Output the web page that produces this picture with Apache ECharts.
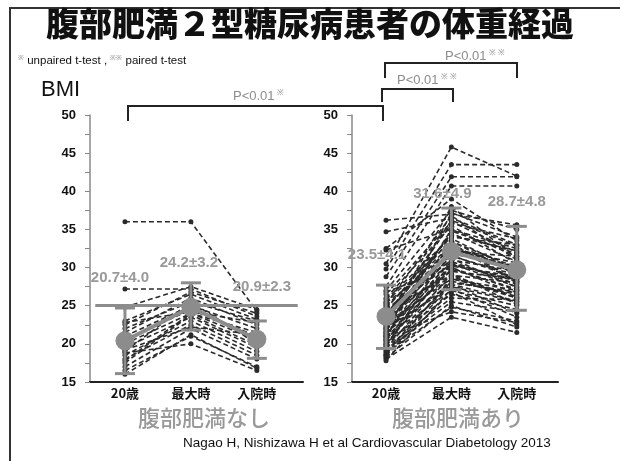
<!DOCTYPE html>
<html>
<head>
<meta charset="utf-8">
<script src="https://cdn.jsdelivr.net/npm/echarts@6/dist/echarts.min.js"></script>
<style>
html, body { margin: 0; padding: 0; background: #fff; }
#chart { width: 620px; height: 461px; }
</style>
</head>
<body>
<div id="chart"></div>
<script>
// 時点
var categories = ['20歳', '最大時', '入院時'];
var groupNames = ['腹部肥満なし', '腹部肥満あり'];

// 腹部肥満なし: 各症例 [20歳, 最大時, 入院時]
var noneSubjects = [
    [36.0, 36.0, 24.3], [27.2, 27.2, 23.6], [24.8, 27.5, 24.5], [23.0, 26.5, 23.2],
    [22.5, 26.8, 24.0], [22.0, 25.5, 23.0], [21.5, 26.0, 22.5], [21.0, 25.0, 22.0],
    [20.5, 24.5, 21.0], [20.0, 24.0, 20.5], [19.5, 23.5, 19.5], [19.0, 25.5, 20.0],
    [18.5, 23.0, 19.0], [18.0, 22.5, 18.5], [17.5, 23.8, 19.8], [17.0, 22.0, 18.0],
    [16.5, 21.0, 17.0], [16.0, 21.2, 16.8], [18.8, 20.0, 16.5], [17.8, 24.0, 21.5],
    [22.8, 24.2, 22.8], [19.2, 22.2, 21.2]
];
// 腹部肥満あり
var withSubjects = [
    [36.2, 37.0, 35.6], [34.7, 36.5, 33.0], [32.5, 39.0, 33.5], [32.3, 35.0, 31.5],
    [30.5, 45.8, 42.0], [29.8, 43.5, 43.5], [28.8, 41.9, 41.9], [27.5, 40.7, 40.7],
    [27.0, 37.5, 35.0], [26.5, 36.0, 32.0], [26.0, 35.5, 30.5], [25.8, 34.0, 33.0],
    [25.5, 33.5, 29.0], [25.2, 36.8, 31.0], [25.0, 32.5, 30.0], [24.8, 33.0, 28.0],
    [24.5, 31.0, 29.5], [24.2, 30.5, 27.5], [24.0, 32.0, 31.5], [23.8, 29.5, 28.5],
    [23.5, 34.5, 30.8], [23.2, 30.0, 26.5], [23.0, 31.5, 29.0], [22.8, 28.5, 27.0],
    [22.5, 33.2, 28.2], [22.2, 29.0, 26.0], [22.0, 27.5, 25.5], [21.8, 30.8, 27.8],
    [21.5, 28.0, 26.8], [21.2, 31.8, 30.2], [21.0, 27.0, 25.0], [20.8, 29.8, 27.2],
    [20.5, 28.8, 26.2], [20.2, 26.5, 24.5], [20.0, 30.2, 28.8], [19.8, 27.8, 24.0],
    [19.5, 26.0, 25.8], [19.2, 25.5, 24.2], [19.0, 28.2, 26.5], [18.8, 24.8, 23.0],
    [18.5, 26.8, 22.5], [18.2, 25.0, 22.2], [18.0, 23.5, 21.5], [17.8, 27.2, 23.5],
    [21.6, 35.0, 32.5], [20.6, 37.2, 34.0], [22.4, 38.0, 31.2], [19.6, 32.8, 29.8],
    [23.6, 35.8, 33.8], [20.9, 24.2, 22.8], [26.8, 30.0, 27.0], [24.6, 34.2, 32.2],
    [23.9, 33.8, 29.6], [22.6, 32.4, 30.6], [21.4, 30.4, 28.4], [20.4, 31.2, 27.4],
    [19.4, 29.2, 25.2], [18.6, 28.6, 26.0], [25.4, 31.6, 28.6], [22.0, 34.8, 31.8],
    [24.4, 29.0, 28.0], [21.1, 33.4, 30.0], [19.9, 30.6, 28.2], [23.4, 36.2, 32.8],
    [18.4, 27.8, 25.6]
];

// 平均とエラーバー
var noneMean = [20.4, 24.8, 20.6];
var noneLow = [16.1, 21.8, 18.1];
var noneHigh = [24.7, 28.0, 23.0];
var noneLabels = ['20.7±4.0', '24.2±3.2', '20.9±2.3'];
var withMean = [23.6, 32.1, 29.7];
var withLow = [19.4, 27.1, 24.4];
var withHigh = [27.7, 37.8, 35.4];
var withLabels = ['23.5±4.1', '31.6±4.9', '28.7±4.8'];

var refLine = 25;
var pText = 'P<0.01';

var GRAY = '#8c8c8c';
var FONT = 'Arial, "Liberation Sans", "Noto Sans CJK JP", sans-serif';
var JP = '"Noto Sans CJK JP", sans-serif';

function subjectSeries(idx, rows) {
    return rows.map(function (r) {
        return {
            type: 'line',
            xAxisIndex: idx,
            yAxisIndex: idx,
            silent: true,
            z: 2,
            symbol: 'circle',
            symbolSize: 5,
            itemStyle: {color: '#2b2b2b'},
            lineStyle: {color: '#2b2b2b', width: 1.6, type: [5, 3]},
            data: r.map(function (v, i) {
                return [i, v];
            })
        };
    });
}

function errorSeries(idx, low, high) {
    return {
        type: 'custom',
        xAxisIndex: idx,
        yAxisIndex: idx,
        z: 5,
        silent: true,
        data: low.map(function (v, i) {
            return [i, v, high[i]];
        }),
        renderItem: function (params, api) {
            var lo = api.coord([api.value(0), api.value(1)]);
            var hi = api.coord([api.value(0), api.value(2)]);
            var w = 10;
            var st = {stroke: GRAY, lineWidth: 3};
            return {
                type: 'group',
                children: [
                    {type: 'line', shape: {x1: hi[0], y1: hi[1], x2: lo[0], y2: lo[1]}, style: st},
                    {type: 'line', shape: {x1: hi[0] - w, y1: hi[1], x2: hi[0] + w, y2: hi[1]}, style: st},
                    {type: 'line', shape: {x1: lo[0] - w, y1: lo[1], x2: lo[0] + w, y2: lo[1]}, style: st}
                ]
            };
        }
    };
}

function meanSeries(idx, mean, labels, offsets, refFrom, refTo) {
    return {
        type: 'line',
        xAxisIndex: idx,
        yAxisIndex: idx,
        z: 6,
        silent: true,
        symbol: 'circle',
        symbolSize: 19,
        itemStyle: {color: GRAY},
        lineStyle: {color: GRAY, width: 4},
        data: mean.map(function (v, i) {
            return {
                value: [i, v],
                label: {
                    show: true,
                    position: 'inside',
                    offset: offsets[i],
                    formatter: labels[i],
                    color: '#999',
                    fontWeight: 'bold',
                    fontSize: 15,
                    fontFamily: FONT
                }
            };
        }),
        markLine: {
            silent: true,
            symbol: 'none',
            label: {show: false},
            lineStyle: {color: GRAY, width: 3, type: 'solid'},
            data: [[{coord: [refFrom, refLine]}, {coord: [refTo, refLine]}]]
        }
    };
}

function xAxis(idx, min, max) {
    return {
        type: 'value',
        gridIndex: idx,
        min: min,
        max: max,
        axisLine: {onZero: false, lineStyle: {color: '#222', width: 2}},
        axisTick: {show: false},
        splitLine: {show: false},
        axisLabel: {
            customValues: [0, 1, 2],
            formatter: function (v) {
                return categories[v];
            },
            color: '#111',
            fontWeight: 'bold',
            fontSize: 13,
            fontFamily: JP,
            margin: 5
        }
    };
}

function yAxis(idx) {
    return {
        type: 'value',
        gridIndex: idx,
        min: 15,
        max: 50,
        interval: 5,
        axisLine: {show: true, onZero: false, lineStyle: {color: '#888', width: 1.5}},
        axisTick: {show: true, length: 5, lineStyle: {color: '#888'}},
        minorTick: {show: true, splitNumber: 2, length: 5, lineStyle: {color: '#888'}},
        splitLine: {show: false},
        axisLabel: {color: '#111', fontWeight: 'bold', fontSize: 13, fontFamily: FONT, margin: 14}
    };
}

function pLabel(x, y, marks) {
    return {
        type: 'text',
        left: x,
        top: y,
        style: {
            text: pText + '{m|' + marks + '}',
            fill: GRAY,
            font: '13px ' + FONT,
            rich: {m: {fontSize: 8, fill: GRAY, verticalAlign: 'top', padding: [0, 0, 6, 2]}}
        }
    };
}

function bracket(points) {
    return {
        type: 'polyline',
        shape: {points: points},
        style: {stroke: '#222', lineWidth: 2, fill: null}
    };
}

var chart = echarts.init(document.getElementById('chart'));
var option = {
    animation: false,
    grid: [
        {left: 90, top: 115, width: 213, height: 267},
        {left: 352, top: 115, width: 206, height: 267}
    ],
    xAxis: [xAxis(0, -0.53, 2.7), xAxis(1, -0.52, 2.63)],
    yAxis: [yAxis(0), yAxis(1)],
    series: [].concat(
        subjectSeries(0, noneSubjects),
        subjectSeries(1, withSubjects),
        [
            errorSeries(0, noneLow, noneHigh),
            errorSeries(1, withLow, withHigh),
            meanSeries(0, noneMean, noneLabels, [[-5, -63], [-2, -44], [5, -52]], -0.45, 2.62),
            meanSeries(1, withMean, withLabels, [[-9, -62], [-9, -58], [0, -68]], -0.59, 2.66)
        ]
    ),
    graphic: [
        {
            type: 'polyline',
            shape: {points: [[10, 461], [10, 8], [620, 8]]},
            style: {stroke: '#333', lineWidth: 2, fill: null}
        },
        {
            type: 'text',
            left: 'center',
            top: 7,
            style: {text: '腹部肥満２型糖尿病患者の体重経過', fill: '#111', font: '900 33px ' + JP}
        },
        {
            type: 'text',
            left: 18,
            top: 55,
            style: {
                text: '{m|※} unpaired t-test , {m|※※} paired t-test',
                fill: '#111',
                font: '11.5px ' + FONT,
                rich: {m: {fontSize: 7, fill: '#777', verticalAlign: 'top'}}
            }
        },
        {
            type: 'text',
            left: 41,
            top: 79,
            style: {text: 'BMI', fill: '#111', font: '22px ' + FONT}
        },
        bracket([[128, 121], [128, 106], [383, 106], [383, 121]]),
        bracket([[382, 102], [382, 89], [453, 89], [453, 102]]),
        bracket([[385, 78], [385, 63], [517, 63], [517, 78]]),
        pLabel(233, 89, '※'),
        pLabel(397, 73, '※ ※'),
        pLabel(445, 49, '※ ※'),
        {
            type: 'text',
            left: 138,
            top: 407,
            style: {text: groupNames[0], fill: '#999', font: '500 22px ' + JP}
        },
        {
            type: 'text',
            left: 392,
            top: 407,
            style: {text: groupNames[1], fill: '#999', font: '500 22px ' + JP}
        },
        {
            type: 'text',
            left: 183,
            top: 437,
            style: {text: 'Nagao H, Nishizawa H et al Cardiovascular Diabetology 2013', fill: '#111', font: '13.5px ' + FONT}
        }
    ]
};
chart.setOption(option);
</script>
</body>
</html>
